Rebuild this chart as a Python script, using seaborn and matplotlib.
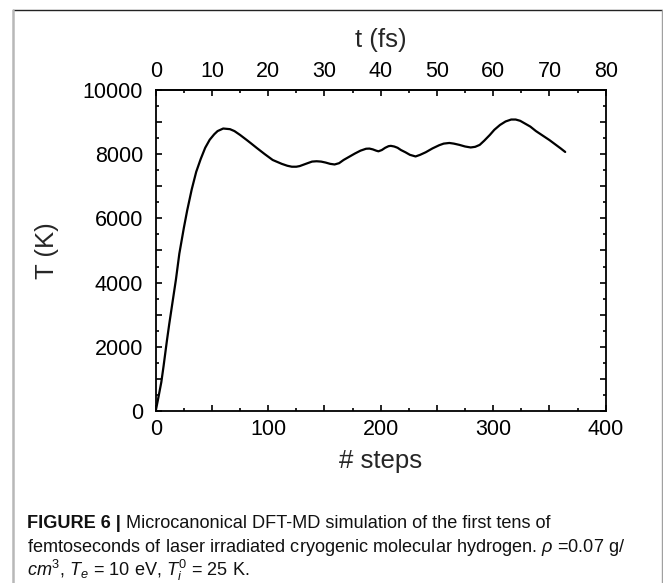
import matplotlib
matplotlib.use("Agg")
import matplotlib.pyplot as plt
import matplotlib.ticker as mticker
from matplotlib.lines import Line2D
import seaborn as sns
import pandas as pd

# ---- data ----
steps = [0, 2, 5, 7, 10, 12, 15, 18, 21, 25, 28, 32, 36, 40, 44, 48, 52, 55, 60,
         66, 70, 75, 81, 85, 90, 97, 104, 112, 117, 121, 125, 128, 135, 139, 143,
         147, 151, 155, 159, 163, 167, 172, 177, 182, 187, 190, 193, 196, 198,
         201, 204, 207, 209, 212, 215, 218, 222, 226, 231, 235, 240, 246, 252,
         256, 261, 265, 270, 275, 280, 284, 288, 292, 297, 301, 306, 311, 316,
         320, 324, 328, 333, 338, 344, 350, 355, 360, 364]
temperature = [0, 350, 900, 1400, 2200, 2700, 3400, 4100, 4900, 5700, 6250, 6900,
               7450, 7850, 8200, 8450, 8620, 8720, 8800, 8780, 8720, 8600, 8440,
               8330, 8190, 8000, 7820, 7700, 7640, 7610, 7610, 7630, 7720, 7770,
               7780, 7770, 7740, 7700, 7680, 7720, 7820, 7920, 8020, 8110, 8170,
               8175, 8150, 8110, 8090, 8130, 8200, 8250, 8260, 8240, 8200, 8130,
               8060, 7980, 7930, 7980, 8060, 8180, 8280, 8330, 8350, 8330, 8290,
               8240, 8210, 8230, 8290, 8420, 8600, 8760, 8910, 9020, 9080, 9080,
               9040, 8960, 8860, 8720, 8580, 8440, 8310, 8180, 8070]
fs_per_step = 0.2
bottom_ticks = [0, 100, 200, 300, 400]
top_ticks = [0, 10, 20, 30, 40, 50, 60, 70, 80]
y_ticks = [0, 2000, 4000, 6000, 8000, 10000]
x_label = "# steps"
y_label = "T (K)"
top_label = "t (fs)"
caption_bold = "FIGURE 6 |"
caption_line1 = " Microcanonical DFT-MD simulation of the first tens of"
caption_line2 = r"femtoseconds of laser irradiated cryogenic molecular hydrogen. $\rho$ =0.07 g/"
caption_line3 = r"$cm^3$, $T_e$ = 10 eV, $T_i^0$ = 25 K."

df = pd.DataFrame({"steps": steps, "T": temperature})

sns.set_theme(style="ticks")
plt.rcParams["font.family"] = ["Liberation Sans", "DejaVu Sans"]
plt.rcParams["mathtext.fontset"] = "custom"
plt.rcParams["mathtext.rm"] = "Liberation Sans"
plt.rcParams["mathtext.it"] = "Liberation Sans:italic"
plt.rcParams["mathtext.bf"] = "Liberation Sans:bold"

W, H = 663, 583
fig = plt.figure(figsize=(W / 100, H / 100), dpi=100)
fig.patch.set_facecolor("white")
ax = fig.add_axes([155.7 / W, 1 - 411 / H, 450 / W, 321 / H])

sns.lineplot(data=df, x="steps", y="T", ax=ax, color="black", linewidth=1.6,
             legend=False)

ax.set_xlim(0, 400)
ax.set_ylim(0, 10000)

ax.xaxis.set_major_locator(mticker.MultipleLocator(50))
ax.xaxis.set_minor_locator(mticker.MultipleLocator(25))
ax.xaxis.set_major_formatter(mticker.FuncFormatter(
    lambda v, p: f"{int(round(v))}" if int(round(v)) in bottom_ticks else ""))
ax.yaxis.set_major_locator(mticker.MultipleLocator(1000))
ax.yaxis.set_minor_locator(mticker.MultipleLocator(500))
ax.yaxis.set_major_formatter(mticker.FuncFormatter(
    lambda v, p: f"{int(round(v))}" if int(round(v)) in y_ticks else ""))

for s in ax.spines.values():
    s.set_visible(True)
    s.set_linewidth(1.3)
    s.set_color("black")

ax.tick_params(which="both", direction="in", top=False, right=True,
               color="black", width=1.2, labelsize=15.5, labelcolor="black")
ax.tick_params(which="major", length=4.5)
ax.tick_params(which="minor", length=2.5)
ax.tick_params(axis="x", which="major", pad=6)
ax.tick_params(axis="y", which="major", pad=9)

ax.set_xlabel(x_label, fontsize=18.5, labelpad=6)
ax.set_ylabel(y_label, fontsize=18.5, labelpad=17)

sec = ax.secondary_xaxis("top", functions=(lambda x: x * fs_per_step,
                                            lambda t: t / fs_per_step))
sec.xaxis.set_major_locator(mticker.FixedLocator(top_ticks))
sec.xaxis.set_minor_locator(mticker.MultipleLocator(5))
sec.tick_params(which="both", direction="in", color="black", width=1.2,
                labelsize=15.5, labelcolor="black")
sec.tick_params(which="major", length=4.5, pad=6)
sec.tick_params(which="minor", length=2.5)
sec.spines["top"].set_linewidth(1.3)
sec.set_xlabel(top_label, fontsize=18.5, labelpad=10)

# ---- frame around figure ----
x0, x1 = 12.7 / W, 661.5 / W
ytop = 1 - 9.5 / H
fig.add_artist(Line2D([x0, x1], [ytop, ytop], transform=fig.transFigure,
                      color="#222222", linewidth=1.0))
fig.add_artist(Line2D([x0, x0], [0, ytop], transform=fig.transFigure,
                      color="#b8b8b8", linewidth=1.8))
fig.add_artist(Line2D([x1, x1], [0, ytop], transform=fig.transFigure,
                      color="#a0a0a0", linewidth=1.0))

# ---- caption ----
cap_size = 13.1
cx = 27 / W
t_bold = fig.text(cx, 1 - 523 / H, caption_bold, fontsize=cap_size,
                  fontweight="bold", va="center", ha="left", color="#111111")
fig.canvas.draw()
bb = t_bold.get_window_extent(renderer=fig.canvas.get_renderer())
fig.text(bb.x1 / W, 1 - 523 / H, caption_line1, fontsize=cap_size,
         va="center", ha="left", color="#111111")
fig.text(cx, 1 - 547 / H, caption_line2, fontsize=cap_size, va="center",
         ha="left", color="#111111")
fig.text(cx, 1 - 570 / H, caption_line3, fontsize=cap_size, va="center",
         ha="left", color="#111111")

fig.savefig("out.png", dpi=100)
